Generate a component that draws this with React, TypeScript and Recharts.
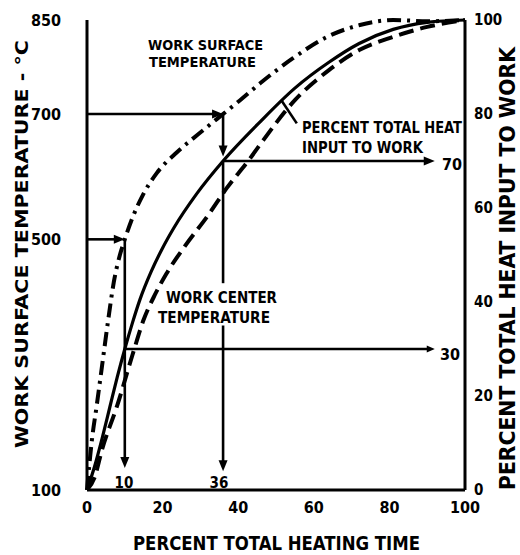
import React from 'react';
import { LineChart, Line, XAxis, YAxis, ReferenceLine } from 'recharts';

const FONT = '"Liberation Sans Narrow", "DejaVu Sans Condensed", "Liberation Sans", "DejaVu Sans", sans-serif';

// Axis ticks
const timeTicks = [0, 20, 40, 60, 80, 100];
const tempTicks = [100, 500, 700, 850];
const pctTicks = [0, 20, 40, 60, 80, 100];

// Work surface temperature (°C) vs percent total heating time
const surfaceTime = [0, 1.3, 2.6, 4, 5.6, 7.1, 8.7, 10, 12.2, 14.8, 18.5, 23.8, 29.9, 36, 40.5, 45.8, 54.5, 63.5, 72.2, 81, 90, 100];
const surfaceTemp = [100, 180, 236, 299, 371, 432, 475, 500, 537, 571, 606, 639, 670, 700, 722, 749, 789, 823, 842, 850, 848, 850];

// Percent total heat input to work vs percent total heating time
const heatTime = [0, 2, 4, 6, 8, 10, 12, 14, 17, 20, 23, 29, 36, 46, 55, 64, 72, 81, 90, 100];
const heatPct = [0, 5, 11, 17.5, 24, 30, 35.5, 40.5, 46.5, 51.5, 55.8, 63, 70, 78.5, 85.5, 91, 95, 98, 99.5, 100];

// Work center temperature (°C) vs percent total heating time
const centerTime = [0, 2, 4, 8, 12, 15, 18, 21, 26, 32, 37, 43, 46, 55, 64, 72, 81, 90, 100];
const centerTemp = [100, 120, 165, 235, 315, 372, 412, 445, 490, 538, 582, 628, 653, 722, 770, 802, 823, 839, 850];

// Marked readings
const markTime = [10, 36];
const markSurfaceTemp = [500, 700];
const markHeatPct = [30, 70];

const surfaceData = surfaceTime.map((x, i) => ({ x, v: surfaceTemp[i] }));
const heatData = heatTime.map((x, i) => ({ x, v: heatPct[i] }));
const centerData = centerTime.map((x, i) => ({ x, v: centerTemp[i] }));

const ArrowLine = (props: any) => {
  const { x1, y1, x2, y2, arrow, head = 11, half = 4.5 } = props;
  const dx = x2 - x1;
  const dy = y2 - y1;
  const len = Math.hypot(dx, dy) || 1;
  const ux = dx / len;
  const uy = dy / len;
  const bx = x2 - ux * head;
  const by = y2 - uy * head;
  const pts = `${x2},${y2} ${bx - uy * half},${by + ux * half} ${bx + uy * half},${by - ux * half}`;
  return (
    <g>
      <line x1={x1} y1={y1} x2={arrow ? bx + ux * 2 : x2} y2={arrow ? by + uy * 2 : y2} stroke="#000" strokeWidth={2.6} />
      {arrow && <polygon points={pts} fill="#000" />}
    </g>
  );
};

const arrowShape = (p: any) => <ArrowLine {...p} arrow />;
const smallArrowShape = (p: any) => <ArrowLine {...p} arrow head={8} half={3.5} />;
const plainShape = (p: any) => <ArrowLine {...p} arrow={false} />;

const tickStyle = { fill: '#000', fontSize: 16, fontWeight: 'bold', fontFamily: FONT };
const rightTickStyle = { ...tickStyle, fontSize: 15 };

const T = (props: any) => <text fontFamily={FONT} fontWeight="bold" fill="#000" {...props} />;
const TF = (props: any) => <T lengthAdjust="spacingAndGlyphs" {...props} />;

export default function App() {
  const [t10, t36] = markTime;
  const [s10, s36] = markSurfaceTemp;
  const [h10, h36] = markHeatPct;
  return (
    <div style={{ position: 'absolute', left: 0, top: 0, width: 520, height: 555, background: '#fff' }}>
      <LineChart width={520} height={555} margin={{ top: 20, right: 0, bottom: 0, left: 0 }}>
        <XAxis
          dataKey="x"
          type="number"
          domain={[0, 100]}
          ticks={timeTicks}
          height={65}
          tickLine={false}
          tickSize={2}
          tickMargin={10}
          axisLine={{ stroke: '#000', strokeWidth: 3 }}
          tick={tickStyle}
          allowDuplicatedCategory={false}
        />
        <YAxis
          yAxisId="left"
          orientation="left"
          type="number"
          domain={[100, 850]}
          ticks={tempTicks}
          width={87}
          tickLine={false}
          tickSize={6}
          tickMargin={20}
          axisLine={{ stroke: '#000', strokeWidth: 3 }}
          tick={tickStyle}
          interval={0}
        />
        <YAxis
          yAxisId="right"
          orientation="right"
          type="number"
          domain={[0, 100]}
          ticks={pctTicks}
          width={55}
          tickLine={false}
          tickSize={4}
          tickMargin={5}
          axisLine={{ stroke: '#000', strokeWidth: 3 }}
          tick={rightTickStyle}
          interval={0}
        />
        <Line
          yAxisId="left"
          data={surfaceData}
          dataKey="v"
          type="monotone"
          stroke="#000"
          strokeWidth={4}
          strokeDasharray="14 6 3 6"
          dot={false}
          isAnimationActive={false}
        />
        <Line
          yAxisId="right"
          data={heatData}
          dataKey="v"
          type="monotone"
          stroke="#000"
          strokeWidth={3.2}
          dot={false}
          isAnimationActive={false}
        />
        <Line
          yAxisId="left"
          data={centerData}
          dataKey="v"
          type="monotone"
          stroke="#000"
          strokeWidth={4}
          strokeDasharray="15 7"
          dot={false}
          isAnimationActive={false}
        />
        {/* surface temperature readings */}
        <ReferenceLine yAxisId="left" segment={[{ x: 0, y: s36 }, { x: t36, y: s36 }]} shape={arrowShape} />
        <ReferenceLine yAxisId="left" segment={[{ x: 0, y: s10 }, { x: t10, y: s10 }]} shape={arrowShape} />
        <ReferenceLine yAxisId="left" segment={[{ x: t10, y: s10 }, { x: t10, y: 135 }]} shape={arrowShape} />
        <ReferenceLine yAxisId="left" segment={[{ x: t36, y: s36 }, { x: t36, y: 632 }]} shape={arrowShape} />
        <ReferenceLine yAxisId="right" segment={[{ x: t36, y: h36 }, { x: t36, y: 44 }]} shape={plainShape} />
        <ReferenceLine yAxisId="right" segment={[{ x: t36, y: 35 }, { x: t36, y: 4 }]} shape={arrowShape} />
        {/* heat input readings */}
        <ReferenceLine yAxisId="right" segment={[{ x: t36, y: h36 }, { x: 92, y: h36 }]} shape={arrowShape} />
        <ReferenceLine yAxisId="right" segment={[{ x: t10, y: h10 }, { x: 92, y: h10 }]} shape={smallArrowShape} />
        {/* leader to heat curve label */}
        <ReferenceLine yAxisId="right" segment={[{ x: 51.5, y: 82.8 }, { x: 55.5, y: 78 }]} shape={plainShape} />
      </LineChart>
      <svg width={520} height={555} style={{ position: 'absolute', left: 0, top: 0, pointerEvents: 'none' }}>
        <TF x={148} y={50} fontSize={14} textLength={115}>WORK SURFACE</TF>
        <TF x={149} y={67} fontSize={14} textLength={107}>TEMPERATURE</TF>
        <TF x={302} y={133} fontSize={16} textLength={160}>PERCENT TOTAL HEAT</TF>
        <TF x={302} y={153} fontSize={16} textLength={121}>INPUT TO WORK</TF>
        <TF x={166} y={303} fontSize={15} textLength={111}>WORK CENTER</TF>
        <TF x={158} y={323} fontSize={15} textLength={112}>TEMPERATURE</TF>
        <T x={124} y={488} fontSize={15} textAnchor="middle">10</T>
        <T x={219} y={488} fontSize={15} textAnchor="middle">36</T>
        <T x={452} y={170} fontSize={16} textAnchor="middle">70</T>
        <T x={450} y={360} fontSize={16} textAnchor="middle">30</T>
        <TF x={133} y={550} fontSize={20} textLength={287}>PERCENT TOTAL HEATING TIME</TF>
        <TF transform="translate(28,448) rotate(-90)" x={0} y={0} fontSize={18} textLength={408}>WORK SURFACE TEMPERATURE - °C</TF>
        <TF transform="translate(515,490) rotate(-90)" x={0} y={0} fontSize={21} textLength={443}>PERCENT TOTAL HEAT INPUT TO WORK</TF>
      </svg>
    </div>
  );
}
